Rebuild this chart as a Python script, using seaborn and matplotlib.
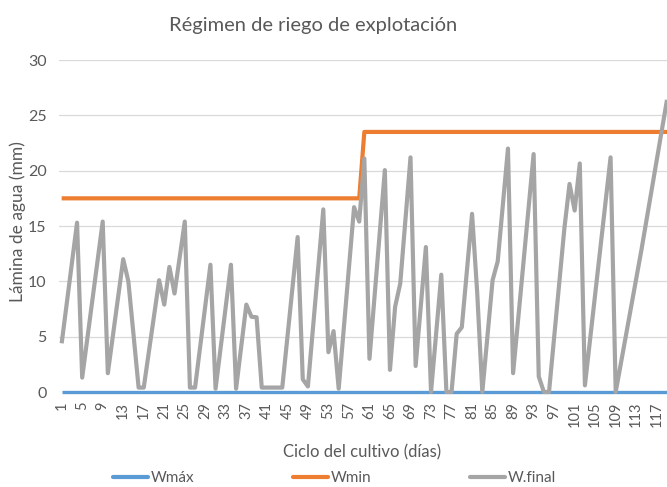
import matplotlib
matplotlib.use("Agg")
import matplotlib.pyplot as plt
from matplotlib.lines import Line2D
import seaborn as sns
import pandas as pd

# Daily water layer series (mm) over the crop cycle
wfinal_days = [1, 4, 5, 9, 10, 13, 14, 16, 17, 20, 21, 22, 23, 25, 26, 27, 30, 31,
               34, 35, 37, 38, 39, 40, 44, 47, 48, 49, 52, 53, 54, 55, 58, 59, 60,
               61, 64, 65, 66, 67, 69, 70, 72, 73, 75, 76, 77, 78, 79, 81, 82, 83,
               85, 86, 88, 89, 93, 94, 95, 96, 99, 100, 101, 102, 103, 108, 109,
               114, 119]
wfinal_vals = [4.4, 15.3, 1.3, 15.4, 1.7, 12.0, 10.0, 0.4, 0.4, 10.1, 7.9, 11.3,
               8.9, 15.4, 0.4, 0.4, 11.5, 0.3, 11.5, 0.3, 7.9, 6.8, 6.75, 0.4, 0.4,
               14.0, 1.15, 0.5, 16.5, 3.6, 5.5, 0.3, 16.7, 15.4, 21.1, 3.0, 20.05,
               2.0, 7.7, 9.8, 21.2, 2.35, 13.1, 0.0, 10.6, 0.0, 0.0, 5.25, 5.85,
               16.1, 9.0, 0.0, 10.1, 11.8, 22.0, 1.7, 21.5, 1.4, 0.0, 0.0, 14.8,
               18.8, 16.4, 20.65, 0.6, 21.2, 0.0, 12.8, 26.4]

wmin_days = [1, 59, 60, 119]
wmin_vals = [17.5, 17.5, 23.5, 23.5]

wmax_days = [1, 119]
wmax_vals = [0.0, 0.0]

x_ticks = list(range(1, 118, 4))
y_ticks = [0, 5, 10, 15, 20, 25, 30]

series_names = ["Wmáx", "Wmin", "W.final"]
colors = ["#5B9BD5", "#ED7D31", "#A5A5A5"]

sns.set_style("white")
plt.rcParams["font.family"] = ["Lato", "DejaVu Sans"]
text_color = "#595959"

fig = plt.figure(figsize=(6.67, 4.87), dpi=100)
ax = fig.add_axes([59.1 / 667, 95 / 487, 607.9 / 667, 332 / 487])

frames = [
    pd.DataFrame({"dia": wmax_days, "lamina": wmax_vals}),
    pd.DataFrame({"dia": wmin_days, "lamina": wmin_vals}),
    pd.DataFrame({"dia": wfinal_days, "lamina": wfinal_vals}),
]
widths = [2.4, 3.0, 3.0]
for df, c, lw in zip(frames, colors, widths):
    sns.lineplot(data=df, x="dia", y="lamina", color=c, linewidth=lw,
                 ax=ax, clip_on=False, solid_capstyle="butt", zorder=3)

ax.set_xlim(0.5, 119.0)
ax.set_ylim(0, 30)
ax.set_yticks(y_ticks)
ax.set_xticks(x_ticks)
ax.set_xticklabels([str(t) for t in x_ticks], rotation=90, fontsize=10.5,
                   color=text_color)
ax.set_yticklabels([str(t) for t in y_ticks], fontsize=11.5, color=text_color)
ax.tick_params(axis="both", length=0)
ax.tick_params(axis="x", pad=7)
ax.tick_params(axis="y", pad=9)
ax.grid(axis="y", color="#D9D9D9", linewidth=0.9)
ax.grid(axis="x", visible=False)
for s in ax.spines.values():
    s.set_visible(False)

ax.set_xlabel("Ciclo del cultivo (días)", fontsize=12, color=text_color)
ax.xaxis.set_label_coords((362 - 59.1) / 607.9, -(452 - 392) / 332)
ax.xaxis.label.set_va("center")
ax.set_ylabel("Lámina de agua (mm)", fontsize=12.5, color=text_color)
ax.yaxis.set_label_coords(-(59.1 - 18) / 607.9, (392 - 222) / 332)
ax.yaxis.label.set_va("center")

fig.text(313 / 667, 1 - 25 / 487, "Régimen de riego de explotación",
         ha="center", va="center", fontsize=14.5, color=text_color)

# legend entries placed one by one along the bottom
legend_x = [113, 293, 470]
for name, c, lx in zip(series_names, colors, legend_x):
    fig.legend([Line2D([0], [0], color=c, linewidth=3)], [name],
               loc="center left", bbox_to_anchor=(lx / 667, 1 - 478 / 487),
               frameon=False, fontsize=11, handlelength=2.3,
               handletextpad=0.2, borderpad=0, borderaxespad=0,
               labelcolor=text_color)

fig.savefig("out.png", dpi=100, facecolor="white")
